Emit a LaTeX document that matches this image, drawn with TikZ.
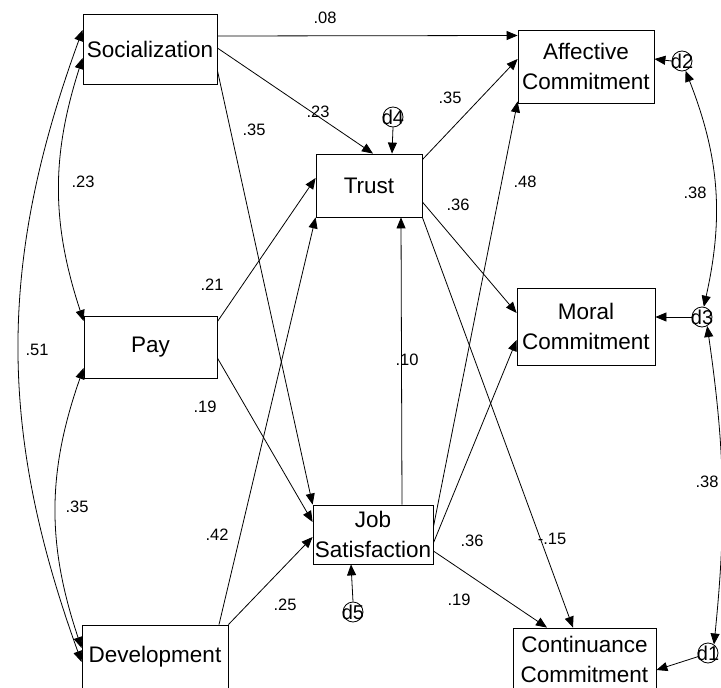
\documentclass[tikz,border=0pt]{standalone}
\usepackage{fontspec}
\setmainfont{Liberation Sans}
\usetikzlibrary{arrows.meta}

\begin{document}
\begin{tikzpicture}[
  x=1pt, y=-1pt,
  var/.style={rectangle, draw, line width=0.8pt, inner sep=0pt, align=center,
              font=\fontsize{22.5}{30}\selectfont},
  err/.style={circle, draw, line width=0.8pt, inner sep=0pt, minimum size=20pt},
  errlab/.style={font=\fontsize{20}{20}\selectfont, inner sep=0pt},
  arrow/.style={-{Triangle[length=11pt, width=9pt]}, line width=0.8pt},
  cov/.style={{Triangle[length=11pt, width=9pt]}-{Triangle[length=11pt, width=9pt]},
              line width=0.8pt},
  coef/.style={font=\fontsize{16.5}{18}\selectfont, inner sep=0pt}
]
\useasboundingbox (0,0) rectangle (721,688);

% Exogenous variables
\node[var, minimum width=134pt, minimum height=70pt] (soc) at (150,49) {Socialization};
\node[var, minimum width=133pt, minimum height=62pt] (pay) at (150.5,347) {Pay};
\node[var, minimum width=146pt, minimum height=63pt] (dev) at (155,656.5) {Development};

% Mediators
\node[var, minimum width=106pt, minimum height=63pt] (trust) at (369,185.5) {Trust};
\node[var, minimum width=120pt, minimum height=59pt] (jsat) at (373,534.5) {Job\\Satisfaction};

% Outcomes
\node[var, minimum width=136pt, minimum height=73pt] (aff) at (586,66.5) {Affective\\Commitment};
\node[var, minimum width=138pt, minimum height=77pt] (moral) at (586,326.5) {Moral\\Commitment};
\node[var, minimum width=143pt, minimum height=62pt] (cont) at (584.5,659) {Continuance\\Commitment};

% Disturbances
\node[err, label={[errlab]center:d1}] (d1) at (708,653) {};
\node[err, label={[errlab]center:d2}] (d2) at (682,61) {};
\node[err, label={[errlab]center:d3}] (d3) at (702,317) {};
\node[err, label={[errlab]center:d4}] (d4) at (393,117) {};
\node[err, label={[errlab]center:d5}] (d5) at (353,612) {};

% Paths
\draw[arrow] ([yshift=13pt]soc.east) -- ([yshift=31pt]aff.west);
\draw[arrow] ([yshift=1pt]soc.east) -- ([xshift=4pt]trust.north);
\draw[arrow] ([yshift=14pt]soc.south east) -- (jsat.north west);
\draw[arrow] ([yshift=-6pt]pay.north east) -- ([yshift=7.5pt]trust.west);
\draw[arrow] ([yshift=-11pt]pay.east) -- ([yshift=12.5pt]jsat.west);
\draw[arrow] ([xshift=64pt]dev.north) -- (trust.south west);
\draw[arrow] (dev.north east) -- ([yshift=-2.5pt]jsat.west);
\draw[arrow] ([xshift=29pt]jsat.north) -- ([xshift=32pt]trust.south);
\draw[arrow] ([yshift=-6pt]trust.north east) -- ([yshift=7.5pt]aff.west);
\draw[arrow] ([yshift=-16.5pt]trust.east) -- ([yshift=13.5pt]moral.west);
\draw[arrow] (trust.south east) -- ([xshift=-11.5pt]cont.north);
\draw[arrow] ([yshift=7.5pt]jsat.east) -- ([yshift=2pt]aff.south west);
\draw[arrow] ([yshift=-8.5pt]jsat.east) -- ([yshift=-13.5pt]moral.west);
\draw[arrow] ([yshift=-16.5pt]jsat.east) -- ([xshift=-37.5pt]cont.north);

% Disturbance paths
\draw[arrow] (d4.south) -- ([xshift=23pt]trust.north);
\draw[arrow] (d5.north) -- ([xshift=-22pt]jsat.south);
\draw[arrow] (d2.west) -- ([yshift=7.5pt]aff.east);
\draw[arrow] (d3.west) -- ([yshift=9.5pt]moral.east);
\draw[arrow] (d1.200) -- ([yshift=-11pt]cont.east);

% Covariances
\draw[cov] ([yshift=-9pt]soc.west) to[bend right=18] ([yshift=26pt]pay.west);
\draw[cov] ([yshift=19pt]soc.west) to[bend right=20] ([yshift=-5.5pt]dev.west);
\draw[cov] ([yshift=-21pt]pay.west) to[bend right=19] ([yshift=8.5pt]dev.west);
\draw[cov] (d2.-70) to[bend left=17] (d3.80);
\draw[cov] (d3.-60) to[bend left=7] (d1.55);

% Coefficients
\node[coef] (w1) at (325,18) {.08};
\node[coef] (w2) at (318,112) {.23};
\node[coef] (w3) at (254,130) {.35};
\node[coef] (w4) at (450,98) {.35};
\node[coef] (w5) at (83,182) {.23};
\node[coef] (w6) at (525,182) {.48};
\node[coef] (w7) at (458,205) {.36};
\node[coef] (w8) at (695,193) {.38};
\node[coef] (w9) at (212,285) {.21};
\node[coef] (w10) at (37,350) {.51};
\node[coef] (w11) at (407,360) {.10};
\node[coef] (w12) at (205,407) {.19};
\node[coef] (w13) at (77,507) {.35};
\node[coef] (w14) at (217,535) {.42};
\node[coef] (w15) at (472,541) {.36};
\node[coef] (w16) at (552,539) {-.15};
\node[coef] (w17) at (707,482) {.38};
\node[coef] (w18) at (285,605) {.25};
\node[coef] (w19) at (459,600) {.19};

\end{tikzpicture}
\end{document}
